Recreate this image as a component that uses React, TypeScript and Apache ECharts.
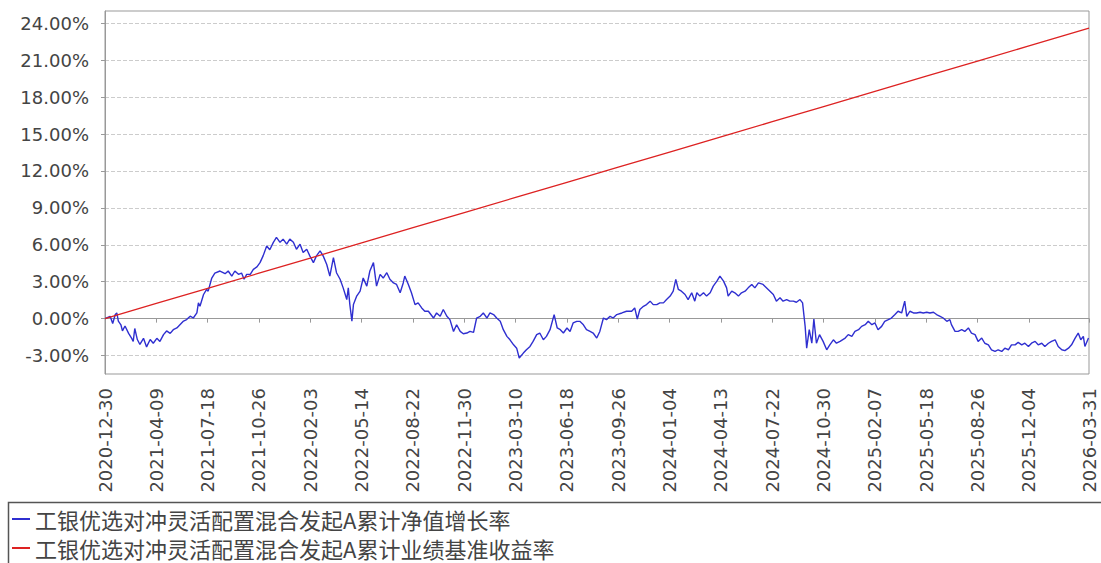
import React, { useEffect, useRef } from 'react';
import * as echarts from 'echarts';

const START = '2020-12-30';
const xTickLabels = [
  '2020-12-30', '2021-04-09', '2021-07-18', '2021-10-26', '2022-02-03', '2022-05-14',
  '2022-08-22', '2022-11-30', '2023-03-10', '2023-06-18', '2023-09-26', '2024-01-04',
  '2024-04-13', '2024-07-22', '2024-10-30', '2025-02-07', '2025-05-18', '2025-08-26',
  '2025-12-04', '2026-03-31',
];
const yTicks = [-3, 0, 3, 6, 9, 12, 15, 18, 21, 24];
const seriesNames = [
  '工银优选对冲灵活配置混合发起A累计净值增长率',
  '工银优选对冲灵活配置混合发起A累计业绩基准收益率',
];

// days since 2020-12-30
const navDay = [
  0, 10, 15, 20, 23, 26, 31, 34, 39, 46, 52, 55, 58, 63, 68, 75, 81, 88, 94, 101,
  107, 114, 120, 127, 133, 140, 146, 153, 159, 166, 172, 179, 182, 185, 192, 198, 201, 208, 214, 224,
  234, 240, 247, 253, 260, 266, 271, 276, 283, 289, 296, 302, 308, 315, 321, 328, 334, 341, 347, 354,
  360, 367, 373, 380, 386, 393, 399, 406, 412, 419, 425, 432, 438, 445, 451, 458, 464, 471, 474, 477,
  481, 484, 490, 497, 503, 510, 516, 523, 529, 536, 542, 549, 555, 562, 568, 575, 581, 584, 591, 597,
  604, 610, 617, 623, 630, 640, 646, 653, 659, 666, 672, 679, 685, 692, 698, 705, 711, 718, 724, 731,
  737, 744, 750, 757, 763, 770, 776, 783, 789, 796, 802, 807, 815, 821, 828, 834, 841, 847, 854, 860,
  867, 875, 881, 887, 893, 900, 906, 912, 919, 925, 932, 938, 945, 951, 958, 964, 971, 977, 984, 990,
  997, 1007, 1016, 1026, 1032, 1037, 1042, 1049, 1055, 1062, 1068, 1075, 1081, 1088, 1094, 1101, 1107, 1112, 1117, 1123,
  1130, 1136, 1143, 1149, 1153, 1159, 1166, 1172, 1179, 1185, 1192, 1198, 1205, 1211, 1214, 1221, 1227, 1234, 1240, 1247,
  1253, 1260, 1266, 1273, 1282, 1292, 1302, 1308, 1315, 1321, 1328, 1334, 1341, 1347, 1354, 1359, 1364, 1367, 1372, 1377,
  1381, 1386, 1392, 1399, 1406, 1412, 1419, 1425, 1432, 1442, 1448, 1455, 1461, 1468, 1474, 1481, 1487, 1494, 1500, 1506,
  1513, 1519, 1526, 1532, 1539, 1545, 1552, 1558, 1562, 1568, 1575, 1581, 1588, 1594, 1601, 1607, 1614, 1620, 1627, 1633,
  1640, 1646, 1649, 1656, 1662, 1669, 1675, 1682, 1688, 1695, 1701, 1708, 1714, 1721, 1727, 1734, 1740, 1747, 1753, 1760,
  1766, 1773, 1779, 1786, 1792, 1799, 1805, 1812, 1818, 1825, 1831, 1838, 1844, 1851, 1857, 1864, 1870, 1877, 1883, 1890,
  1896, 1901, 1906, 1909, 1916,
];
const navValue = [
  0, 0.19, -0.4, 0.33, 0.46, -0.2, -0.5, -1.0, -0.6, -1.2, -1.6, -1.85, -0.8, -1.7, -2.1, -1.6, -2.3, -1.7, -2.0, -1.6,
  -1.85, -1.3, -1.0, -1.2, -0.9, -0.76, -0.5, -0.2, -0.08, 0.2, 0.05, 0.46, 1.28, 1.0, 1.96, 2.37, 2.23, 3.3, 3.7, 3.87,
  3.65, 3.87, 3.46, 3.87, 3.6, 3.7, 3.2, 3.6, 3.6, 4.0, 4.2, 4.55, 5.1, 5.9, 5.6, 6.2, 6.6, 6.2, 6.46, 6.05,
  6.46, 6.2, 5.64, 6.05, 5.37, 5.64, 5.1, 4.55, 5.1, 5.5, 5.1, 4.4, 3.46, 4.96, 3.73, 3.2, 2.5, 1.55, 2.5, 1.14,
  -0.2, 1.14, 1.8, 2.23, 3.3, 2.64, 3.87, 4.55, 2.64, 3.6, 3.3, 3.73, 3.2, 2.9, 2.78, 2.1, 2.9, 3.46, 2.78, 2.1,
  1.14, 1.28, 0.87, 0.6, 0.6, 0.05, 0.46, 0.19, 0.74, 0.19, -0.08, -1.04, -0.5, -1.04, -1.23, -1.17, -1.04, -1.12, 0.05, 0.19,
  0.46, 0.05, 0.46, 0.33, 0.05, -0.22, -0.9, -1.44, -1.72, -2.13, -2.4, -3.2, -2.8, -2.53, -2.26, -1.85, -1.3, -1.17, -1.72, -1.44,
  -0.9, 0.33, -0.76, -0.9, -1.17, -0.76, -1.04, -0.35, -0.22, -0.22, -0.5, -0.9, -1.04, -1.17, -1.58, -1.04, 0.05, -0.08, 0.19, 0.05,
  0.33, 0.46, 0.6, 0.6, 0.87, -0.03, 0.74, 1.0, 1.14, 1.42, 1.14, 1.14, 1.28, 1.28, 1.55, 1.83, 2.23, 3.19, 2.37, 2.23,
  1.96, 1.55, 2.1, 1.42, 2.1, 1.83, 2.1, 1.83, 2.1, 2.64, 3.05, 3.46, 3.05, 2.5, 1.83, 2.23, 2.1, 1.83, 2.1, 2.23,
  2.5, 2.78, 2.5, 2.9, 2.78, 2.37, 1.96, 1.42, 1.69, 1.42, 1.55, 1.42, 1.42, 1.33, 1.55, 1.28, -0.63, -2.4, -0.9, -2.0,
  -0.03, -2.0, -1.3, -1.85, -2.53, -2.13, -1.72, -2.0, -1.85, -1.58, -1.3, -1.44, -1.04, -0.9, -0.63, -0.49, -0.22, -0.49, -0.35, -0.9,
  -0.63, -0.22, -0.08, 0.05, 0.33, 0.6, 0.46, 1.42, 0.19, 0.6, 0.46, 0.46, 0.52, 0.46, 0.52, 0.46, 0.52, 0.33, 0.19, 0.05,
  -0.22, -0.08, -0.49, -1.04, -1.04, -0.9, -1.04, -0.76, -1.17, -1.3, -1.85, -1.58, -2.0, -2.13, -2.53, -2.67, -2.53, -2.67, -2.4, -2.53,
  -2.13, -2.13, -1.93, -2.13, -2.0, -2.26, -2.0, -1.85, -2.13, -2.0, -2.26, -2.0, -1.85, -1.72, -2.26, -2.53, -2.6, -2.4, -2.13, -1.58,
  -1.17, -1.72, -1.44, -2.26, -1.58,
];

const benchDay = [0, 100, 200, 300, 400, 500, 600, 700, 800, 900, 1000, 1100, 1200, 1300, 1400, 1500, 1600, 1700, 1800, 1917];
const benchValue = [0, 1.23, 2.46, 3.69, 4.92, 6.16, 7.39, 8.62, 9.85, 11.08, 12.31, 13.54, 14.77, 16.0, 17.23, 18.47, 19.7, 20.93, 22.16, 23.6];

function dayOffset(s: string): number {
  const [a, b] = [s, START].map((t) => {
    const [y, m, d] = t.split('-').map(Number);
    return Date.UTC(y, m - 1, d);
  });
  return Math.round((a - b) / 86400000);
}

export default function App() {
  const ref = useRef<HTMLDivElement>(null);
  useEffect(() => {
    if (!ref.current) return;
    const chart = echarts.init(ref.current, undefined, { renderer: 'svg' });
    const xTickValues = xTickLabels.map(dayOffset);
    const labelMap: Record<number, string> = {};
    xTickLabels.forEach((l, i) => (labelMap[xTickValues[i]] = l));
    const axisColor = '#999';
    const textColor = '#444';
    const font = 'DejaVu Sans, sans-serif';
    const legendBase = {
      orient: 'horizontal',
      left: 12,
      itemWidth: 18,
      itemHeight: 2,
      icon: 'rect',
      padding: 0,
      textStyle: { fontSize: 22, lineHeight: 22, color: textColor, fontFamily: 'Noto Sans CJK SC' },
    };
    chart.setOption({
      animation: false,
      backgroundColor: '#fff',
      grid: {
        left: 105,
        right: 12,
        top: 11,
        bottom: 189,
        show: true,
        borderColor: axisColor,
        borderWidth: 1,
        containLabel: false,
      },
      xAxis: {
        type: 'value',
        min: 0,
        max: xTickValues[xTickValues.length - 1],
        offset: 7,
        axisLine: { show: true, lineStyle: { color: axisColor, width: 1 } },
        axisTick: { show: true, length: 4, customValues: xTickValues, lineStyle: { color: axisColor } },
        axisLabel: {
          customValues: xTickValues,
          rotate: 90,
          margin: 7,
          fontSize: 18,
          color: textColor,
          fontFamily: font,
          formatter: (v: number) => labelMap[v] ?? '',
        },
        splitLine: { show: false },
      },
      yAxis: {
        type: 'value',
        min: -4.5,
        max: 25,
        offset: 6,
        axisLine: { show: true, lineStyle: { color: axisColor, width: 1 } },
        axisTick: { show: true, length: 4, customValues: yTicks, lineStyle: { color: axisColor } },
        axisLabel: {
          customValues: yTicks,
          margin: 10,
          fontSize: 18,
          color: textColor,
          fontFamily: font,
          formatter: (v: number) => v.toFixed(2) + '%',
        },
        splitLine: { show: true, lineStyle: { color: '#ccc', type: 'dashed', width: 1 } },
      },
      legend: [
        { ...legendBase, top: 508, data: [seriesNames[0]] },
        { ...legendBase, top: 537, data: [seriesNames[1]] },
      ],
      graphic: [
        {
          type: 'rect',
          z: -1,
          shape: { x: 8.5, y: 502.5, width: 1100, height: 80 },
          style: { fill: 'none', stroke: '#555', lineWidth: 1.5 },
        },
      ],
      series: [
        {
          name: seriesNames[0],
          type: 'line',
          showSymbol: false,
          data: navDay.map((d, i) => [d, navValue[i]]),
          lineStyle: { color: '#2f2fd0', width: 1.4 },
          itemStyle: { color: '#2f2fd0' },
        },
        {
          name: seriesNames[1],
          type: 'line',
          showSymbol: false,
          data: benchDay.map((d, i) => [d, benchValue[i]]),
          lineStyle: { color: '#dd2222', width: 1.3 },
          itemStyle: { color: '#dd2222' },
        },
      ],
    });
    return () => chart.dispose();
  }, []);
  return (
    <div
      ref={ref}
      style={{ position: 'fixed', left: 0, top: 0, width: 1101, height: 563, background: '#fff' }}
    />
  );
}
